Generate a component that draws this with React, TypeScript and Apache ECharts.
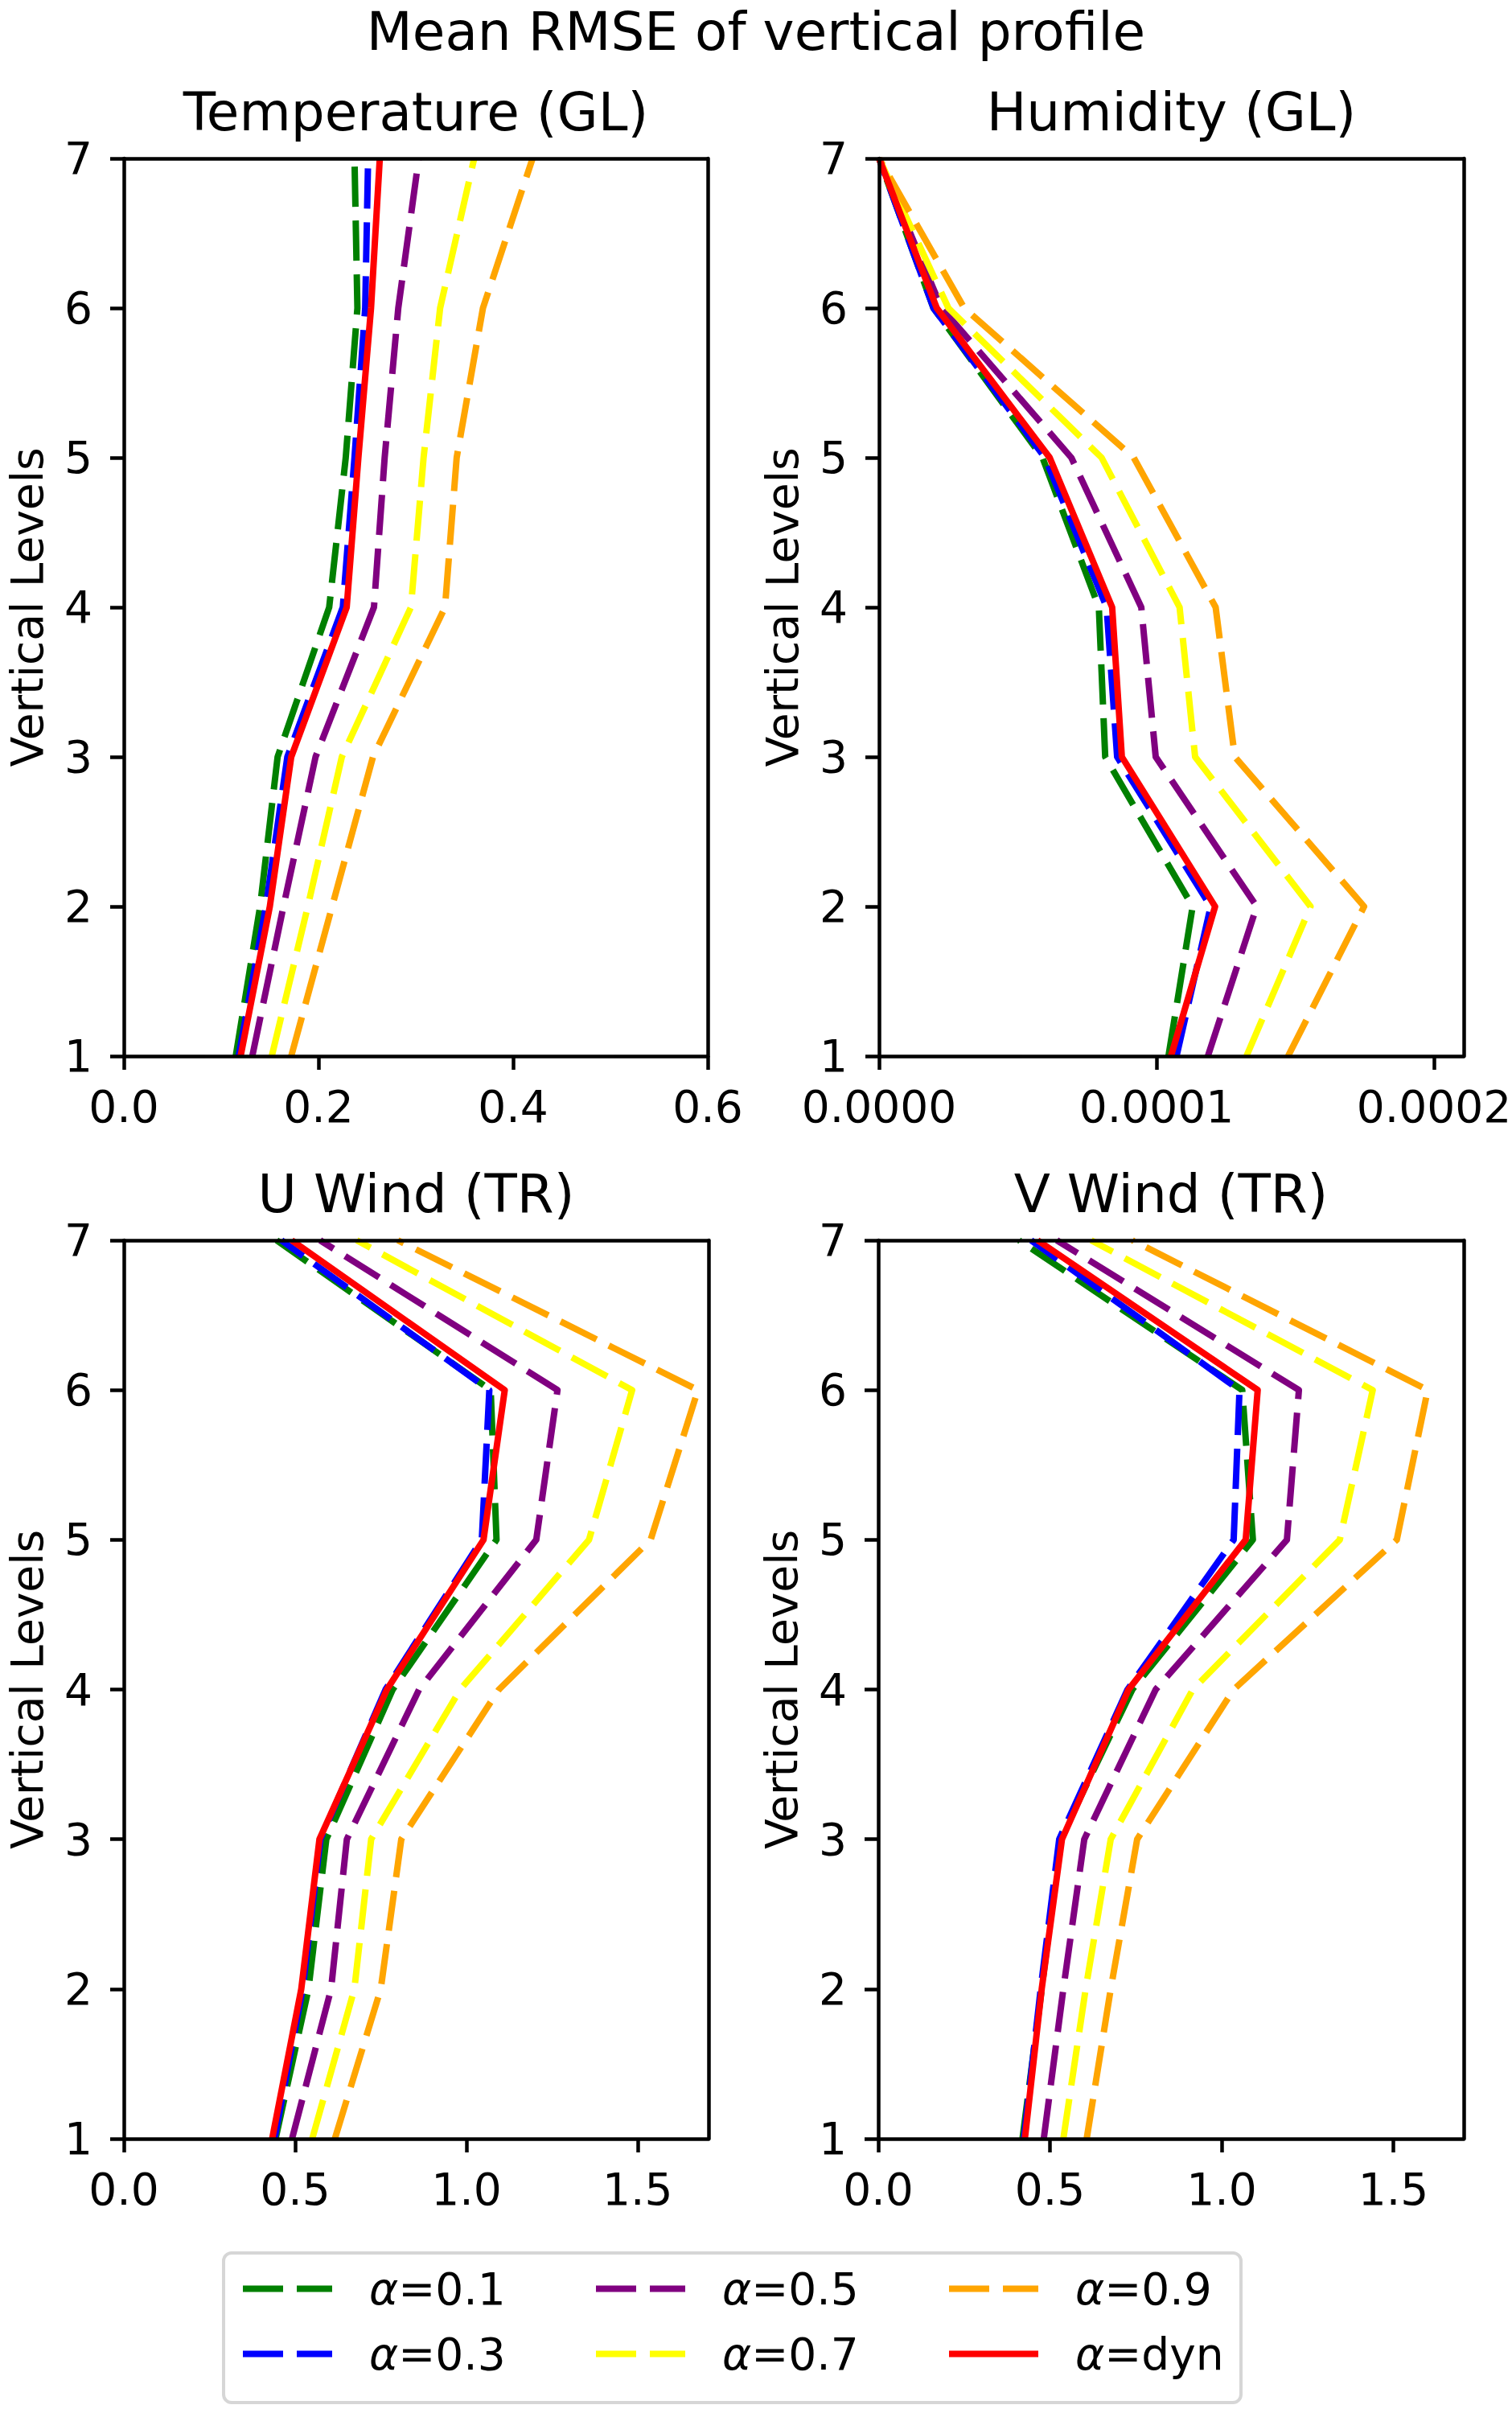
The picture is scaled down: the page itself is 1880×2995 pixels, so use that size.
import React, { useEffect, useRef } from 'react';
import * as echarts from 'echarts';

const FONT = '"DejaVu Sans", Verdana, sans-serif';

// vertical levels, bottom to top
const levels = [1, 2, 3, 4, 5, 6, 7];

const seriesNames = ['α=0.1', 'α=0.3', 'α=0.5', 'α=0.7', 'α=0.9', 'α=dyn'];
const seriesColors = ['#008000', '#0000ff', '#800080', '#ffff00', '#ffa500', '#ff0000'];

// Temperature (GL), values for levels 1..7
const tempA01 = [0.115, 0.14, 0.158, 0.211, 0.228, 0.24, 0.237];
const tempA03 = [0.118, 0.146, 0.168, 0.225, 0.237, 0.248, 0.251];
const tempA05 = [0.132, 0.164, 0.197, 0.257, 0.268, 0.282, 0.303];
const tempA07 = [0.152, 0.189, 0.224, 0.295, 0.308, 0.325, 0.36];
const tempA09 = [0.172, 0.214, 0.256, 0.33, 0.342, 0.369, 0.42];
const tempDyn = [0.12, 0.15, 0.172, 0.229, 0.241, 0.254, 0.263];

// Humidity (GL)
const humA01 = [0.0001043, 0.000113, 0.0000815, 0.0000792, 0.0000589, 0.0000196, 0];
const humA03 = [0.0001072, 0.0001195, 0.0000858, 0.000082, 0.0000598, 0.0000196, 0];
const humA05 = [0.0001185, 0.0001361, 0.0000997, 0.0000945, 0.0000693, 0.0000225, 0];
const humA07 = [0.0001324, 0.0001555, 0.0001139, 0.0001083, 0.0000802, 0.000025, 0];
const humA09 = [0.0001474, 0.0001748, 0.0001282, 0.0001213, 0.0000918, 0.0000307, 0];
const humDyn = [0.0001052, 0.0001211, 0.0000875, 0.000084, 0.0000615, 0.0000208, 0];

// U Wind (TR)
const uA01 = [0.443, 0.539, 0.591, 0.785, 1.088, 1.071, 0.446];
const uA03 = [0.44, 0.522, 0.574, 0.764, 1.045, 1.067, 0.46];
const uA05 = [0.491, 0.605, 0.651, 0.862, 1.204, 1.266, 0.573];
const uA07 = [0.55, 0.673, 0.722, 0.982, 1.358, 1.484, 0.68];
const uA09 = [0.616, 0.75, 0.81, 1.095, 1.538, 1.676, 0.8];
const uDyn = [0.433, 0.518, 0.571, 0.768, 1.05, 1.112, 0.49];

// V Wind (TR)
const vA01 = [0.42, 0.476, 0.53, 0.74, 1.091, 1.06, 0.41];
const vA03 = [0.424, 0.473, 0.527, 0.726, 1.035, 1.052, 0.445];
const vA05 = [0.482, 0.539, 0.6, 0.808, 1.19, 1.225, 0.52];
const vA07 = [0.539, 0.604, 0.677, 0.916, 1.344, 1.44, 0.62];
const vA09 = [0.607, 0.677, 0.754, 1.035, 1.51, 1.6, 0.74];
const vDyn = [0.427, 0.476, 0.535, 0.729, 1.07, 1.105, 0.464];

// x tick labels
const tempTicks = [0, 0.2, 0.4, 0.6];
const humTicks = [0, 0.0001, 0.0002];
const windTicks = [0, 0.5, 1.0, 1.5];

const panels = [
  { title: 'Temperature (GL)', values: [tempA01, tempA03, tempA05, tempA07, tempA09, tempDyn], max: 0.6, ticks: tempTicks, digits: 1, box: [154, 197, 726, 1116] },
  { title: 'Humidity (GL)', values: [humA01, humA03, humA05, humA07, humA09, humDyn], max: 0.0002107, ticks: humTicks, digits: 4, box: [1093, 197, 727, 1116] },
  { title: 'U Wind (TR)', values: [uA01, uA03, uA05, uA07, uA09, uDyn], max: 1.707, ticks: windTicks, digits: 1, box: [154, 1542, 727, 1117] },
  { title: 'V Wind (TR)', values: [vA01, vA03, vA05, vA07, vA09, vDyn], max: 1.705, ticks: windTicks, digits: 1, box: [1092, 1542, 728, 1117] },
];

// legend: three columns, two rows (column-major like matplotlib ncol=3)
const legendCols = [298, 737, 1176];
const legendRows = [2818, 2899];

const LINE_W = 8;
const DASH = [50, 17];
const spine = { color: '#000', width: 4.5 };

export default function App() {
  const ref = useRef<HTMLDivElement>(null);

  useEffect(() => {
    document.body.style.margin = '0';
    if (!ref.current) return;
    const chart = echarts.init(ref.current, null, { renderer: 'svg' });

    const grid: any[] = [];
    const xAxis: any[] = [];
    const yAxis: any[] = [];
    const series: any[] = [];
    const graphic: any[] = [];

    panels.forEach((p, i) => {
      const [left, top, width, height] = p.box;
      grid.push({ left, top, width, height, containLabel: false, outerBoundsMode: 'none' });

      xAxis.push({
        gridIndex: i, type: 'value', min: 0, max: p.max, position: 'bottom', z: 5,
        axisLine: { show: true, onZero: false, lineStyle: spine },
        axisTick: { show: true, length: 17, customValues: p.ticks, lineStyle: spine },
        axisLabel: {
          customValues: p.ticks, margin: 35, fontSize: 55, fontFamily: FONT, color: '#000',
          formatter: (v: number) => v.toFixed(p.digits),
        },
        splitLine: { show: false },
      });
      // top spine
      xAxis.push({
        gridIndex: i, type: 'value', min: 0, max: p.max, position: 'top', z: 5,
        axisLine: { show: true, onZero: false, lineStyle: spine },
        axisTick: { show: false }, axisLabel: { show: false }, splitLine: { show: false },
      });
      yAxis.push({
        gridIndex: i, type: 'value', min: 1, max: 7, interval: 1, position: 'left', z: 5,
        axisLine: { show: true, onZero: false, lineStyle: spine },
        axisTick: { show: true, length: 17, lineStyle: spine },
        axisLabel: { margin: 39, fontSize: 55, fontFamily: FONT, color: '#000' },
        splitLine: { show: false },
        name: 'Vertical Levels', nameLocation: 'middle', nameGap: 93,
        nameTextStyle: { fontSize: 55, fontFamily: FONT, color: '#000', lineHeight: 54 },
      });
      // right spine
      yAxis.push({
        gridIndex: i, type: 'value', min: 1, max: 7, position: 'right', z: 5,
        axisLine: { show: true, onZero: false, lineStyle: spine },
        axisTick: { show: false }, axisLabel: { show: false }, splitLine: { show: false },
      });

      p.values.forEach((vals, j) => {
        series.push({
          type: 'line',
          name: seriesNames[j],
          xAxisIndex: 2 * i,
          yAxisIndex: 2 * i,
          data: levels.map((lv, k) => [vals[k], lv]),
          symbol: 'none',
          silent: true,
          color: seriesColors[j],
          lineStyle: {
            color: seriesColors[j],
            width: LINE_W,
            type: j === 5 ? 'solid' : DASH,
            join: 'round',
          },
        });
      });

      graphic.push({
        type: 'text', x: left + width / 2, y: top - 58,
        style: { text: p.title, fontSize: 66, fontFamily: FONT, fill: '#000', align: 'center', verticalAlign: 'middle', lineHeight: 62 },
      });
    });

    graphic.push({
      type: 'text', x: 940, y: 39,
      style: { text: 'Mean RMSE of vertical profile', fontSize: 66, fontFamily: FONT, fill: '#000', align: 'center', verticalAlign: 'middle', lineHeight: 62 },
    });
    graphic.push({
      type: 'rect', z: 0,
      shape: { x: 278, y: 2801, width: 1265, height: 186, r: 10 },
      style: { fill: 'none', stroke: '#d6d6d6', lineWidth: 4 },
    });

    const legendOrder = [
      [0, 2, 4],
      [1, 3, 5],
    ];
    const legend: any[] = [];
    legendOrder.forEach((row, r) => {
      row.forEach((j, c) => {
        legend.push({
          data: [seriesNames[j]],
          left: legendCols[c],
          top: legendRows[r],
          padding: 0,
          itemWidth: 111,
          itemHeight: 8,
          selectedMode: false,
          itemStyle: { opacity: 0 },
          lineStyle: {
            color: seriesColors[j],
            width: LINE_W,
            type: j === 5 ? 'solid' : DASH,
            cap: 'butt',
          },
          formatter: (n: string) => `{a|α}{b|${n.slice(1)}}`,
          textStyle: {
            padding: [0, 0, 0, 41],
            rich: {
              a: { fontSize: 55, fontFamily: FONT, fontStyle: 'italic', color: '#000', lineHeight: 56 },
              b: { fontSize: 55, fontFamily: FONT, color: '#000', lineHeight: 56 },
            },
          },
        });
      });
    });

    chart.setOption({
      animation: false,
      backgroundColor: '#fff',
      grid,
      xAxis,
      yAxis,
      series,
      legend,
      graphic,
    });

    return () => {
      chart.dispose();
    };
  }, []);

  return <div ref={ref} style={{ width: 1880, height: 2995 }} />;
}
